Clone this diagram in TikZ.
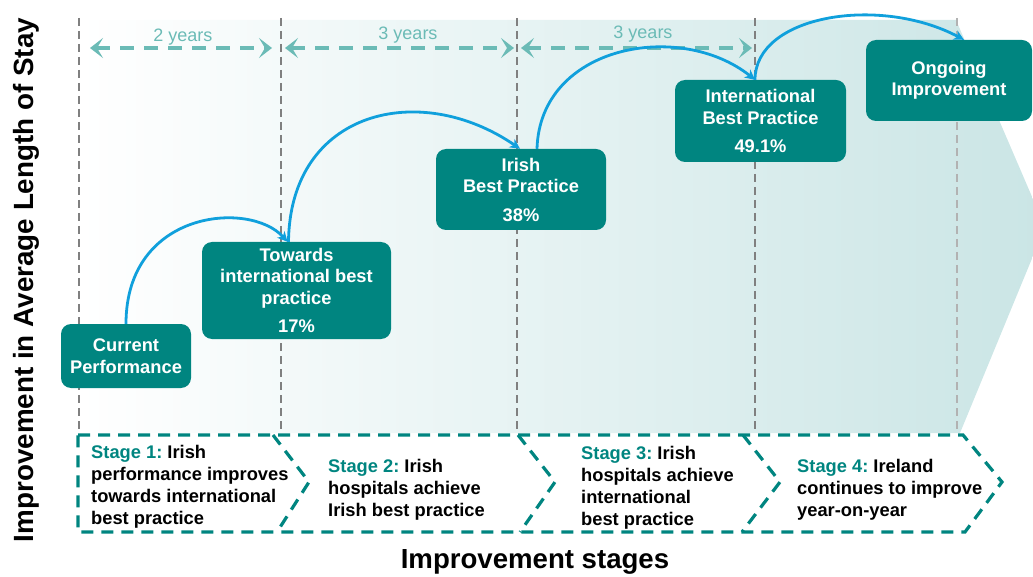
\documentclass[tikz,border=0pt]{standalone}
\usepackage{fontspec}
\setmainfont{Liberation Sans}
\usetikzlibrary{arrows.meta,calc}
\definecolor{boxteal}{RGB}{0,133,128}
\definecolor{yearteal}{RGB}{107,187,182}
\definecolor{flowblue}{RGB}{16,160,220}
\definecolor{bgteal}{RGB}{202,229,229}
\definecolor{gridgray}{RGB}{128,128,128}
\definecolor{gridlight}{RGB}{178,178,178}
\begin{document}
\begin{tikzpicture}[x=1pt,y=-1pt,
  milestone/.style={rectangle, rounded corners=10pt, fill=boxteal, text=white,
    font=\bfseries\fontsize{18.3}{21.5}\selectfont, align=center, inner sep=0pt},
  stagetext/.style={anchor=north west, inner sep=0pt, align=left,
    font=\frenchspacing\bfseries\fontsize{18.3}{22}\selectfont},
  gridline/.style={draw=gridgray, line width=1.8pt, dash pattern=on 8pt off 5pt},
  yeararrow/.style={draw=yearteal, line width=4.5pt, dash pattern=on 14pt off 10pt,
    {Stealth[length=13pt,width=20pt,inset=6pt]}-{Stealth[length=13pt,width=20pt,inset=6pt]}},
  yearlabel/.style={text=yearteal, font=\fontsize{18}{20}\selectfont, inner sep=0pt},
  flow/.style={draw=flowblue, line width=2.8pt, -{Stealth[length=10pt,width=10pt,inset=3pt]}},
  stagedash/.style={draw=boxteal, line width=3.2pt, dash pattern=on 12pt off 8pt}
]
\useasboundingbox (0,0) rectangle (1033,577);

% background arrow band
\begin{scope}
\clip (0,0) rectangle (1033,577);
\shade[left color=white, right color=bgteal]
  (80,20) -- (956,20) -- (1045,227) -- (960,433) -- (80,433) -- cycle;
\end{scope}

% vertical grid lines
\foreach \x in {79,281,517,755} \draw[gridline] (\x,18) -- (\x,433);
\draw[gridline, draw=gridlight] (957,18) -- (957,433);

% year spans
\coordinate (y1a) at (90,48);  \coordinate (y1b) at (272,48);
\coordinate (y2a) at (285,48); \coordinate (y2b) at (514,48);
\coordinate (y3a) at (521,48); \coordinate (y3b) at (752,48);
\draw[yeararrow] (y1a) -- (y1b);
\draw[yeararrow] (y2a) -- (y2b);
\draw[yeararrow] (y3a) -- (y3b);
\node[yearlabel] (l1) at (183,37) {2 years};
\node[yearlabel] (l2) at (408,35) {3 years};
\node[yearlabel] (l3) at (643,34) {3 years};

% milestone boxes
\node[milestone, minimum width=130pt, minimum height=64pt] (cur) at (126,356)
  {Current\\Performance};
\node[milestone, minimum width=189pt, minimum height=97pt] (tow) at (296.5,290.5)
  {Towards\\international best\\practice\\[7pt]17\%};
\node[milestone, minimum width=170pt, minimum height=81pt] (iri) at (521,189.5)
  {Irish\\Best Practice\\[7pt]38\%};
\node[milestone, minimum width=171pt, minimum height=82pt] (int) at (760.5,121)
  {International\\Best Practice\\[7pt]49.1\%};
\node[milestone, minimum width=166pt, minimum height=81pt] (ong) at (949,80.5)
  {Ongoing\\Improvement};

% flow connectors
\draw[flow] (cur.north) .. controls (126,210) and (250,200) .. ([xshift=-9pt]tow.north);
\draw[flow] ([xshift=-8pt]tow.north) .. controls (290,110) and (420,80) .. ([xshift=-1pt]iri.north);
\draw[flow] ([xshift=16pt]iri.north) .. controls (540,45) and (680,20) .. ([xshift=-5.5pt]int.north);
\draw[flow] ([xshift=-5.5pt]int.north) .. controls (755,15) and (880,-5) .. ([xshift=15pt]ong.north);

% stage band
\draw[stagedash] (78,435) -- (963,435) -- (1002,482) -- (965,532) -- (78,532) -- cycle;
\draw[stagedash] (273,435) -- (309,482) -- (277,532);
\draw[stagedash] (518,435) -- (555,482) -- (520,532);
\draw[stagedash] (743,435) -- (780,482) -- (742,532);

\node[stagetext] (s1) at (91,445)
  {{\color{boxteal}Stage 1:} Irish\\performance improves\\towards international\\best practice};
\node[stagetext] (s2) at (328,459)
  {{\color{boxteal}Stage 2:} Irish\\hospitals achieve\\Irish best practice};
\node[stagetext] (s3) at (581,446)
  {{\color{boxteal}Stage 3:} Irish\\hospitals achieve\\international\\best practice};
\node[stagetext] (s4) at (797,459)
  {{\color{boxteal}Stage 4:} Ireland\\continues to improve\\year-on-year};

% axis titles
\node[rotate=90, font=\bfseries\fontsize{27.8}{30}\selectfont, inner sep=0pt] (yax) at (26,280)
  {Improvement in Average Length of Stay};
\node[font=\bfseries\fontsize{27.6}{30}\selectfont, inner sep=0pt] (xax) at (535,562)
  {Improvement stages};
\end{tikzpicture}
\end{document}
